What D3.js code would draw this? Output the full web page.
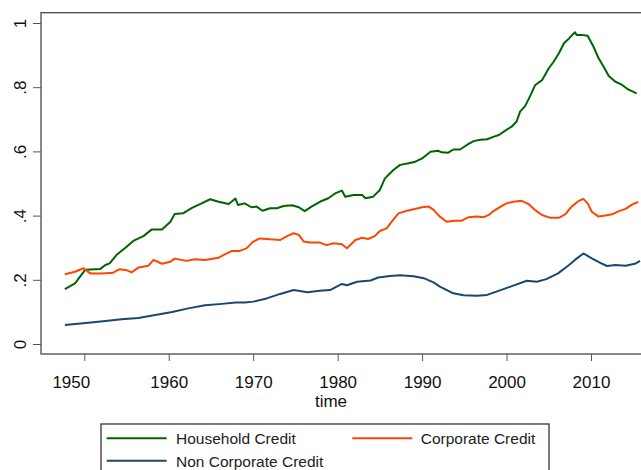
<!DOCTYPE html>
<html>
<head>
<meta charset="utf-8">
<script src="https://cdn.jsdelivr.net/npm/d3@7"></script>
<style>
  html, body { margin: 0; padding: 0; background: #fff; }
  svg { display: block; font-family: "Liberation Sans", Arial, sans-serif; }
</style>
</head>
<body>
<svg id="chart" width="641" height="470"></svg>
<script>
// ---- data ----
const seriesNames = ["Household Credit", "Corporate Credit", "Non Corporate Credit"];

const householdTime = [1947.7,1948.9,1950.1,1951.9,1952.5,1953.0,1953.8,1954.8,1955.8,1957.0,1958.0,1959.2,1960.2,1960.7,1961.7,1962.7,1963.7,1964.9,1965.9,1967.1,1967.9,1968.2,1969.0,1969.8,1970.4,1971.1,1972.0,1972.8,1973.6,1974.6,1975.4,1976.1,1976.9,1977.9,1978.9,1979.7,1980.5,1980.9,1981.9,1982.9,1983.3,1984.2,1985.0,1985.6,1986.6,1987.4,1988.4,1989.2,1990.0,1991.0,1991.9,1992.3,1993.1,1993.7,1994.5,1995.3,1996.1,1996.9,1997.7,1998.5,1999.1,1999.8,2000.6,2001.2,2001.6,2002.2,2002.8,2003.4,2004.2,2005.0,2005.6,2006.2,2006.8,2007.4,2008.1,2008.3,2008.9,2009.6,2010.3,2010.9,2011.5,2012.1,2012.9,2013.7,2014.4,2015.4];
const householdValue = [0.171,0.189,0.231,0.234,0.246,0.251,0.277,0.298,0.321,0.336,0.357,0.357,0.381,0.405,0.407,0.423,0.436,0.451,0.443,0.436,0.453,0.433,0.438,0.426,0.428,0.415,0.423,0.423,0.430,0.432,0.426,0.414,0.428,0.443,0.454,0.469,0.478,0.459,0.464,0.464,0.454,0.459,0.480,0.516,0.542,0.558,0.563,0.568,0.578,0.599,0.602,0.597,0.596,0.606,0.606,0.620,0.632,0.636,0.638,0.646,0.651,0.664,0.677,0.693,0.724,0.741,0.773,0.807,0.822,0.859,0.880,0.906,0.937,0.952,0.971,0.963,0.963,0.960,0.926,0.890,0.864,0.835,0.817,0.807,0.793,0.781];

const corporateTime = [1947.7,1948.9,1949.9,1950.7,1952.1,1953.4,1954.2,1955.0,1955.6,1956.4,1957.6,1958.2,1959.2,1960.2,1960.7,1962.1,1963.1,1964.3,1965.9,1966.7,1967.5,1968.4,1969.2,1970.0,1970.8,1972.0,1973.2,1974.0,1974.8,1975.4,1976.0,1976.7,1977.9,1978.7,1979.5,1980.5,1981.1,1982.1,1982.9,1983.6,1984.4,1985.0,1985.8,1986.4,1987.2,1988.2,1989.0,1990.0,1990.8,1991.4,1992.0,1992.9,1993.9,1994.7,1995.5,1996.5,1997.3,1997.9,1998.5,1999.3,2000.0,2000.8,2001.8,2002.6,2003.4,2004.2,2005.2,2006.2,2007.0,2007.7,2008.5,2009.1,2009.6,2010.1,2010.9,2011.7,2012.5,2013.3,2014.1,2014.9,2015.6];
const corporateValue = [0.217,0.225,0.236,0.220,0.220,0.222,0.233,0.230,0.223,0.238,0.244,0.262,0.250,0.256,0.266,0.259,0.264,0.262,0.269,0.280,0.290,0.290,0.298,0.319,0.329,0.326,0.324,0.336,0.345,0.340,0.319,0.316,0.316,0.308,0.314,0.311,0.298,0.324,0.331,0.327,0.336,0.352,0.360,0.381,0.407,0.415,0.420,0.426,0.428,0.417,0.399,0.381,0.384,0.384,0.395,0.397,0.395,0.402,0.415,0.428,0.438,0.443,0.446,0.436,0.417,0.402,0.393,0.393,0.405,0.428,0.445,0.452,0.438,0.412,0.397,0.400,0.404,0.414,0.421,0.435,0.443];

const nonCorpTime = [1947.7,1948.9,1950.5,1952.5,1954.4,1956.4,1958.4,1960.4,1962.3,1964.3,1966.3,1967.9,1969.0,1970.0,1971.6,1973.2,1974.8,1976.4,1977.9,1979.1,1980.5,1981.1,1982.3,1983.9,1984.8,1986.2,1987.4,1989.0,1990.2,1991.4,1992.1,1993.7,1994.9,1996.5,1997.7,1999.3,2000.8,2002.4,2003.6,2004.7,2006.1,2007.4,2008.1,2009.1,2010.1,2011.1,2011.9,2012.9,2014.1,2015.3,2015.8];
const nonCorpValue = [0.059,0.062,0.066,0.072,0.077,0.081,0.090,0.100,0.111,0.121,0.125,0.129,0.129,0.132,0.142,0.156,0.168,0.161,0.166,0.168,0.187,0.183,0.194,0.198,0.207,0.212,0.214,0.211,0.205,0.191,0.179,0.158,0.152,0.150,0.153,0.168,0.182,0.197,0.194,0.202,0.220,0.246,0.262,0.282,0.267,0.253,0.243,0.246,0.244,0.251,0.259];

const xTickValues = [1950,1960,1970,1980,1990,2000,2010];
const yTickValues = [0,0.2,0.4,0.6,0.8,1];
const yTickLabels = ["0",".2",".4",".6",".8","1"];
const xTitle = "time";

const colors = ["#006400", "#ff4500", "#1a476f"];

// ---- layout ----
const svg = d3.select("#chart");
const plotLeft = 41, plotTop = 12.7, plotBottom = 354, plotRight = 660;

const x = d3.scaleLinear().domain([1950, 2010]).range([84.3, 591]);
const y = d3.scaleLinear().domain([0, 1]).range([344, 23]);

svg.append("defs").append("clipPath").attr("id", "clip")
  .append("rect").attr("x", plotLeft).attr("y", plotTop)
  .attr("width", plotRight - plotLeft).attr("height", plotBottom - plotTop);

// frame
svg.append("rect")
  .attr("x", plotLeft).attr("y", plotTop)
  .attr("width", plotRight - plotLeft).attr("height", plotBottom - plotTop)
  .attr("fill", "none").attr("stroke", "#3a3a3a").attr("stroke-width", 1.2);

// lines
const series = [
  {t: householdTime, v: householdValue},
  {t: corporateTime, v: corporateValue},
  {t: nonCorpTime, v: nonCorpValue}
];
const line = d3.line().x(d => x(d[0])).y(d => y(d[1]));
const g = svg.append("g").attr("clip-path", "url(#clip)");
series.forEach((s, i) => {
  g.append("path")
    .datum(d3.zip(s.t, s.v))
    .attr("d", line)
    .attr("fill", "none")
    .attr("stroke", colors[i])
    .attr("stroke-width", 2)
    .attr("stroke-linejoin", "round");
});

// x axis
const xAxis = svg.append("g")
  .attr("transform", `translate(0,${plotBottom})`)
  .call(d3.axisBottom(x).tickValues(xTickValues).tickFormat(d3.format("d")).tickSize(7).tickSizeOuter(0));
xAxis.select(".domain").remove();
xAxis.selectAll(".tick line").attr("stroke", "#555").attr("stroke-width", 1);
xAxis.selectAll(".tick text")
  .attr("y", 33.7).attr("dy", 0)
  .attr("font-size", 17).attr("fill", "#111")
  .attr("font-family", "Liberation Sans, Arial, sans-serif")
  .attr("x", (d, i) => i === 0 ? -13.5 : 0);

// y axis
const yAxis = svg.append("g")
  .attr("transform", `translate(${plotLeft},0)`)
  .call(d3.axisLeft(y).tickValues(yTickValues).tickFormat((d, i) => yTickLabels[i]).tickSize(8).tickSizeOuter(0));
yAxis.select(".domain").remove();
yAxis.selectAll(".tick line").attr("stroke", "#555").attr("stroke-width", 1);
yAxis.selectAll(".tick text")
  .attr("x", 0).attr("y", 0).attr("dy", 0)
  .attr("transform", "translate(-15.5,0) rotate(-90)")
  .attr("text-anchor", "middle")
  .attr("font-size", 17).attr("fill", "#111")
  .attr("font-family", "Liberation Sans, Arial, sans-serif");

// x title
svg.append("text")
  .attr("x", 331).attr("y", 406.7)
  .attr("text-anchor", "middle")
  .attr("font-size", 17).attr("fill", "#111")
  .text(xTitle);

// legend
const leg = svg.append("g");
leg.append("rect")
  .attr("x", 101).attr("y", 424).attr("width", 448).attr("height", 70)
  .attr("fill", "none").attr("stroke", "#333").attr("stroke-width", 1.3);
const legPos = [
  {lx: 106.7, ly: 438.3, tx: 176, ty: 443.5},
  {lx: 352.3, ly: 438.3, tx: 420.7, ty: 443.5},
  {lx: 106.7, ly: 460.7, tx: 176, ty: 466.5}
];
seriesNames.forEach((name, i) => {
  const p = legPos[i];
  leg.append("line")
    .attr("x1", p.lx).attr("x2", p.lx + 60)
    .attr("y1", p.ly).attr("y2", p.ly)
    .attr("stroke", colors[i]).attr("stroke-width", 2);
  leg.append("text")
    .attr("x", p.tx).attr("y", p.ty)
    .attr("font-size", 15.5).attr("fill", "#222")
    .text(name);
});
</script>
</body>
</html>
